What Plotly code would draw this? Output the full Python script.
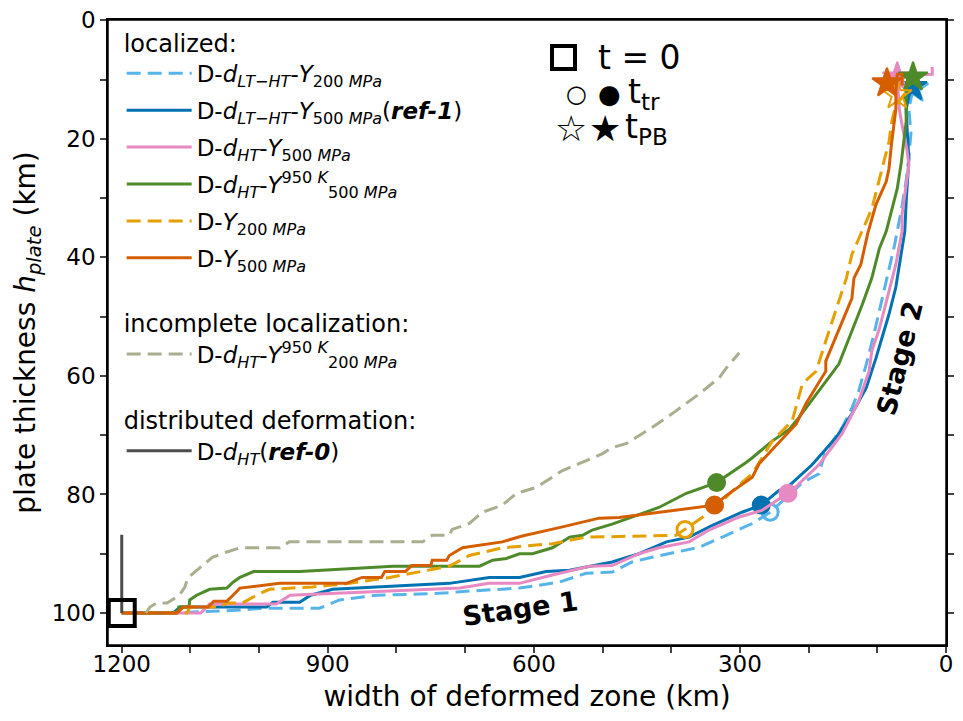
import plotly.graph_objects as go

# width of deformed zone (km) vs plate thickness (km)
ltht200_x = [1200, 1120, 1087, 1024, 995, 912, 883, 829, 767, 723, 708, 621, 563, 524, 486, 457, 428,
             359, 320, 282, 256, 209, 185, 175, 151, 137, 127, 116, 105, 95, 85, 75, 65, 58, 54, 51,
             54, 49, 44]
ltht200_y = [100, 100, 99.8, 99.5, 99.2, 99.2, 97.8, 97, 96.8, 96.6, 96.4, 95.8, 94.8, 93.3, 93.1, 91.4,
             90.6, 88.9, 86.9, 84.9, 83.0, 78, 76.5, 72.6, 68.7, 65.4, 62.5, 58, 53, 48, 43, 38, 32, 27,
             23, 19, 15, 12, 10.4]

ltht500_x = [1200, 1125, 1115, 989, 980, 941, 925, 893, 723, 665, 621, 582, 548, 486, 447, 407, 374,
             340, 297, 269, 243, 233, 195, 160, 137, 116, 102, 93, 83, 73, 64, 60, 58, 54, 57, 58, 49, 44]
ltht500_y = [100, 100, 99, 99, 98.2, 98.2, 97, 96, 95, 94, 94, 93, 92.8, 91.4, 90, 88, 87.2, 85.2, 83,
             81.8, 79.3, 79, 75, 70.4, 66.4, 62, 57, 53.6, 49.6, 45, 39, 35.6, 30.6, 23.4, 17.6, 15, 10,
             8.7]

ht500_x = [1200, 1085, 1072, 975, 955, 767, 708, 665, 621, 573, 519, 486, 447, 418, 374, 345, 301,
           268, 230, 224, 185, 151, 127, 112, 108, 97, 83, 73, 64, 64, 54, 57, 64, 68, 71, 51, 20, 20]
ht500_y = [100, 100, 98.5, 98.5, 97, 96, 95.8, 95, 95, 93.6, 92.1, 92, 90, 89, 88, 86, 83.8, 82.7,
           79.8, 79.3, 75, 69.7, 64.2, 59.2, 55.8, 52, 45.7, 41.2, 35.6, 32.8, 24.4, 21.7, 17.6, 15,
           9.5, 9.2, 9.1, 7.9]

ht950_500_x = [1200, 1120, 1117, 1102, 1101, 1091, 1072, 1047, 1038, 1028, 1008, 941, 805, 679, 660,
               640, 621, 602, 573, 548, 529, 515, 486, 418, 378, 334, 291, 282, 253, 228, 214, 185,
               156, 141, 122, 108, 97, 87, 71, 65, 61, 58, 58, 57, 51, 35]
ht950_500_y = [100, 100, 99, 99, 97.8, 97, 96, 95.8, 94.8, 94, 93, 93, 92.1, 92.1, 91.1, 90.8, 90, 90,
               89, 87.2, 86.9, 86, 85, 82.2, 79.8, 78, 74.6, 73.8, 71, 69, 67, 62.5, 58, 53.6, 48,
               43.5, 38.5, 35.6, 28.4, 23.9, 20.5, 17.1, 12.1, 10.4, 9.3, 9.1]

y200_x = [1200, 1105, 1101, 1057, 1047, 1024, 1004, 985, 922, 868, 810, 767, 723, 694, 646, 573, 524,
          393, 380, 340, 310, 282, 253, 224, 209, 189, 175, 160, 145, 137, 122, 108, 93, 83, 79, 73, 58]
y200_y = [100, 100, 99, 99, 98.3, 98.3, 97, 96, 95.6, 95, 94, 93, 92.1, 90.3, 89, 88.3, 87.2, 86.9,
          85.9, 82.7, 79.3, 76.5, 71, 67.6, 61.3, 59.2, 54.1, 48.6, 43.5, 39.5, 35.6, 31.8, 25, 20.5,
          17.1, 14.3, 12.1]

y500_x = [1200, 1120, 1110, 1074, 1066, 1047, 1038, 1028, 970, 873, 850, 822, 817, 787, 778, 750, 748,
          727, 723, 704, 646, 617, 563, 505, 476, 418, 337, 320, 282, 272, 218, 204, 175, 175, 151,
          137, 134, 124, 114, 102, 87, 83, 79, 73, 73, 71, 64, 64]
y500_y = [100, 100, 99, 99, 98, 98, 97, 95.8, 95, 95, 94, 94, 93, 93, 92, 92, 91.1, 91.1, 90.3, 89,
          88, 87, 85.6, 84, 83.9, 83, 81.8, 80.2, 77.1, 74.8, 68.1, 64.7, 59.2, 57.5, 50.8, 46.9, 43.5,
          41.2, 36, 31.1, 27.2, 25, 20.5, 15, 12.1, 9.1, 9.1, 11]

ht950_200_x = [1165, 1159, 1149, 1134, 1116, 1108, 1104, 1091, 1076, 1068, 1047, 1028, 970, 956, 762,
               748, 723, 719, 694, 675, 646, 625, 596, 573, 559, 534, 500, 486, 465, 428, 399, 359,
               330, 320, 301]
ht950_200_y = [100, 99, 98.3, 98.3, 97, 95.6, 94.1, 92.8, 91.4, 90.6, 89.7, 89, 89, 88, 88, 86.9, 86.9,
               85.9, 84.9, 83, 81.8, 79.8, 78.8, 77.1, 76, 74.8, 73.1, 72.1, 71.4, 68.7, 66.4, 63,
               60.3, 58.7, 56.1]

ref0_x = [1200, 1200]
ref0_y = [100, 86.8]

# t_tr (transition) points and t_PB (plate boundary) points
ttr_x = [256, 269, 230, 334, 380, 337]
ttr_y = [83.0, 81.8, 79.8, 78.0, 85.9, 81.8]
tpb_x = [47, 49, 71, 48, 71, 86]
tpb_y = [11.5, 11.2, 9.6, 9.6, 12.6, 10.6]
t0_x = [1200]
t0_y = [100]

names = [
    "D-<i>d</i><sub><i>LT−HT</i></sub>-<i>Y</i><sub>200 <i>MPa</i></sub>",
    "D-<i>d</i><sub><i>LT−HT</i></sub>-<i>Y</i><sub>500 <i>MPa</i></sub>(<b><i>ref-1</i></b>)",
    "D-<i>d</i><sub><i>HT</i></sub>-<i>Y</i><sub>500 <i>MPa</i></sub>",
    "D-<i>d</i><sub><i>HT</i></sub>-<i>Y</i><sup>950 <i>K</i></sup><sub>500 <i>MPa</i></sub>",
    "D-<i>Y</i><sub>200 <i>MPa</i></sub>",
    "D-<i>Y</i><sub>500 <i>MPa</i></sub>",
]
colors = ["#56B4E9", "#0072B2", "#E78AC3", "#4E8A2A", "#E69F00", "#D55E00"]
dashes = ["14px,7px", "solid", "solid", "solid", "14px,7px", "solid"]
filled = [False, True, True, True, False, True]
series = [(ltht200_x, ltht200_y), (ltht500_x, ltht500_y), (ht500_x, ht500_y),
          (ht950_500_x, ht950_500_y), (y200_x, y200_y), (y500_x, y500_y)]

fig = go.Figure()

for i, (sx, sy) in enumerate(series):
    fig.add_trace(go.Scatter(
        x=[tpb_x[i]], y=[tpb_y[i]], mode='markers', showlegend=False,
        marker=dict(symbol='star' if filled[i] else 'star-open', size=22,
                    color=colors[i], line=dict(color=colors[i], width=2))))
    fig.add_trace(go.Scatter(x=sx, y=sy, mode='lines', name=names[i],
                             line=dict(color=colors[i], width=3, dash=dashes[i]),
                             legend='legend', legendgroup='loc%d' % i))
    fig.add_trace(go.Scatter(
        x=[ttr_x[i]], y=[ttr_y[i]], mode='markers', showlegend=False,
        marker=dict(symbol='circle' if filled[i] else 'circle-open', size=16,
                    color=colors[i], line=dict(color=colors[i], width=3))))

fig.add_trace(go.Scatter(x=ht950_200_x, y=ht950_200_y, mode='lines', legend='legend2',
                         name="D-<i>d</i><sub><i>HT</i></sub>-<i>Y</i><sup>950 <i>K</i></sup><sub>200 <i>MPa</i></sub>",
                         line=dict(color="#A9AE8E", width=3, dash="14px,7px")))
fig.add_trace(go.Scatter(x=ref0_x, y=ref0_y, mode='lines', legend='legend3',
                         name="D-<i>d</i><sub><i>HT</i></sub>(<b><i>ref-0</i></b>)",
                         line=dict(color="#4D4D4D", width=3)))

fig.add_trace(go.Scatter(x=t0_x, y=t0_y, mode='markers', showlegend=False,
                         marker=dict(symbol='square-open', size=26, color='black',
                                     line=dict(color='black', width=4))))

# frame round the plot area
fig.add_shape(type='rect', xref='paper', yref='paper', x0=0, x1=1, y0=0, y1=1,
              line=dict(color='black', width=1.5), layer='above')

# marker key (upper middle)
fig.add_annotation(text="", x=0.544, y=0.940, xref='paper', yref='paper', showarrow=False,
                   xanchor='center', yanchor='middle',
                   width=19, height=19, borderwidth=4, bordercolor='black', borderpad=0)
key = [
    ("t = 0", 0.582, 0.940, 'left', 33),
    ("<b>○</b>", 0.559, 0.882, 'center', 24),
    ("●", 0.599, 0.882, 'center', 26),
    ("t<sub>tr</sub>", 0.618, 0.882, 'left', 33),
    ("☆", 0.552, 0.826, 'center', 36),
    ("★", 0.593, 0.826, 'center', 36),
    ("t<sub>PB</sub>", 0.615, 0.826, 'left', 33),
]
for txt, kx, ky, anc, fs in key:
    fig.add_annotation(text=txt, x=kx, y=ky, xref='paper', yref='paper', xanchor=anc,
                       yanchor='middle', showarrow=False, font=dict(size=fs, color='black'))

fig.add_annotation(text="<b>Stage 1</b>", x=620, y=99.2, textangle=-8, showarrow=False,
                   font=dict(size=27, color='black'))
fig.add_annotation(text="<b>Stage 2</b>", x=68, y=57, textangle=-76, showarrow=False,
                   font=dict(size=27, color='black'))

leg = dict(xanchor='left', yanchor='top', font=dict(size=23), bgcolor='rgba(0,0,0,0)',
           traceorder='grouped', tracegroupgap=4, itemwidth=65)

# page body has an 8px margin, so the figure is 8px smaller than the window
fig.update_layout(
    width=955, height=713,
    margin=dict(l=100, r=15, t=10, b=76),
    plot_bgcolor='white', paper_bgcolor='white',
    font=dict(family='DejaVu Sans', size=23, color='black'),
    legend=dict(leg, x=0.0163, y=0.999,
                title=dict(text='localized:', font=dict(size=24))),
    legend2=dict(leg, x=0.0163, y=0.550,
                 title=dict(text='incomplete localization:', font=dict(size=24))),
    legend3=dict(leg, x=0.0163, y=0.395,
                 title=dict(text='distributed deformation:', font=dict(size=24))),
)
fig.update_xaxes(range=[1220, 0], tickvals=list(range(1200, -1, -100)),
                 ticktext=[str(v) if v % 300 == 0 else '' for v in range(1200, -1, -100)],
                 ticks='outside', ticklen=6, tickwidth=1.5, showline=True, linewidth=1.5,
                 linecolor='black', mirror=True, showgrid=False, zeroline=False,
                 ticklabelstandoff=-8, ticklabeloverflow='allow',
                 title=dict(text='width of deformed zone (km)', standoff=10))
fig.update_yaxes(range=[105.4, -0.05], tickvals=list(range(0, 101, 10)),
                 ticktext=[str(v) if v % 20 == 0 else '' for v in range(0, 101, 10)],
                 ticks='outside', ticklen=6, tickwidth=1.5, showline=True, linewidth=1.5,
                 linecolor='black', mirror='ticks', showgrid=False, zeroline=False,
                 ticklabeloverflow='allow', automargin=False,
                 title=dict(text='plate thickness <i>h</i><sub><i>plate</i></sub> (km)', standoff=8))

fig.write_html("out.html")
